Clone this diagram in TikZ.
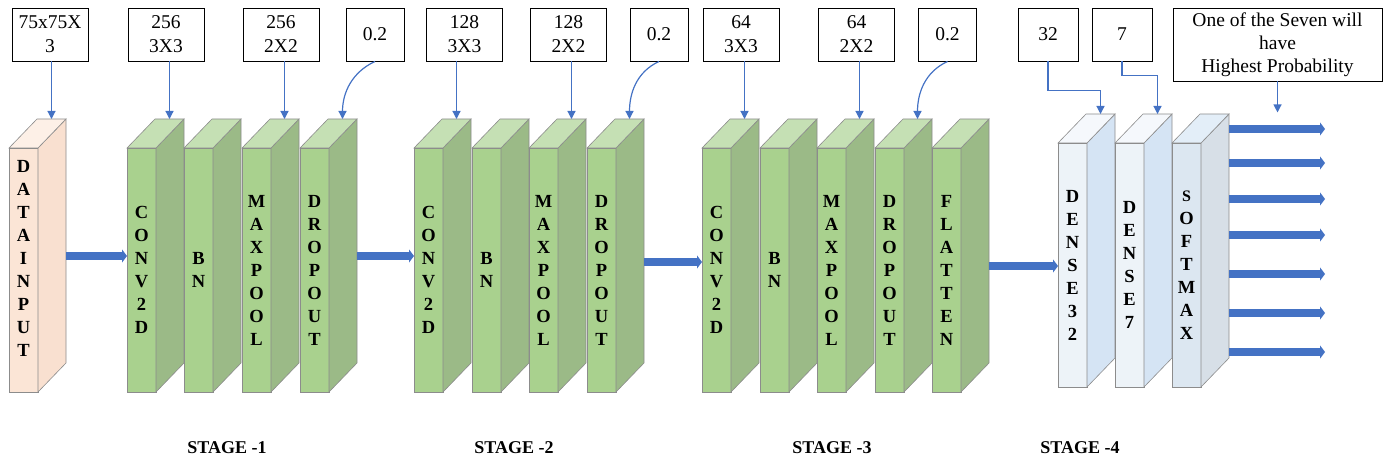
\documentclass[tikz,border=0pt]{standalone}
\usepackage{fontspec}
\setmainfont{Liberation Serif}
\usetikzlibrary{positioning,calc,arrows.meta}

\definecolor{arrowblue}{HTML}{4472C4}
\definecolor{peachfront}{HTML}{FBE5D6}
\definecolor{peachside}{HTML}{F9E0D0}
\definecolor{peachtop}{HTML}{FDF0E7}
\definecolor{greenfront}{HTML}{A9D18E}
\definecolor{greenside}{HTML}{9BBA87}
\definecolor{greentop}{HTML}{C5E0B4}
\definecolor{densefront}{HTML}{EDF3F8}
\definecolor{denseside}{HTML}{D5E4F4}
\definecolor{densetop}{HTML}{F5F8FC}
\definecolor{softfront}{HTML}{DCE7F1}
\definecolor{softside}{HTML}{D7DFE7}
\definecolor{softtop}{HTML}{E3EEF8}

\tikzset{
  slab/.style={minimum width=29pt, minimum height=244pt, inner sep=0pt, outer sep=0pt,
    draw=black!45, line width=0.6pt, align=center,
    font=\bfseries\fontsize{18.5}{23}\selectfont},
  slab edge/.style={draw=black!45, line width=0.6pt},
  parambox/.style={draw=black, line width=0.9pt, minimum height=53pt, minimum width=76pt,
    inner sep=2pt, align=center, font=\fontsize{19.5}{24}\selectfont},
  link/.style={draw=arrowblue, line width=1.2pt, -{Triangle[length=8pt,width=8pt]}},
  flow/.style={draw=arrowblue, line width=8pt, -{Triangle[length=5pt,width=13pt]}},
  stagelabel/.style={font=\bfseries\fontsize{18}{22}\selectfont},
}

% one layer drawn as a slab: name, colour, x, y of front top, letters
\newcommand{\slab}[5]{%
  \node[slab, fill=#2front, anchor=north west] (#1) at (#3,#4) {#5};
  \draw[slab edge, fill=#2side] (#1.north east) -- ++(28,-29) -- ++(0,244) -- (#1.south east) -- cycle;
  \draw[slab edge, fill=#2top] (#1.north west) -- ++(28,-29) -- ($(#1.north east)+(28,-29)$) -- (#1.north east) -- cycle;
  \coordinate (#1 top) at ($(#1.north)+(28,-29)$);
  \coordinate (#1 back) at ($(#1.north east)+(28,108)$);
}

\begin{document}
\begin{tikzpicture}[x=1pt,y=-1pt]
    \useasboundingbox (0,0) rectangle (1388,465);

    % layers
    \slab{datain}{peach}{9}{148}{D\\A\\T\\A\\I\\N\\P\\U\\T\\[0pt]}
    \slab{conva}{green}{127}{148}{C\\O\\N\\V\\2\\D}
    \slab{bna}{green}{184}{148}{B\\N}
    \slab{poola}{green}{242}{148}{M\\A\\X\\P\\O\\O\\L}
    \slab{dropa}{green}{300}{148}{D\\R\\O\\P\\O\\U\\T}
    \slab{convb}{green}{414}{148}{C\\O\\N\\V\\2\\D}
    \slab{bnb}{green}{472}{148}{B\\N}
    \slab{poolb}{green}{529}{148}{M\\A\\X\\P\\O\\O\\L}
    \slab{dropb}{green}{587}{148}{D\\R\\O\\P\\O\\U\\T}
    \slab{convc}{green}{702}{148}{C\\O\\N\\V\\2\\D}
    \slab{bnc}{green}{760}{148}{B\\N}
    \slab{poolc}{green}{817}{148}{M\\A\\X\\P\\O\\O\\L}
    \slab{dropc}{green}{875}{148}{D\\R\\O\\P\\O\\U\\T}
    \slab{flat}{green}{932}{148}{F\\L\\A\\T\\T\\E\\N}
    \slab{densea}{dense}{1058}{143}{D\\E\\N\\S\\E\\3\\2}
    \slab{denseb}{dense}{1115}{143}{D\\E\\N\\S\\E\\7}
    \slab{soft}{soft}{1172}{143}{\fontsize{16}{20}\selectfont S\\O\\F\\T\\M\\A\\X}

    % parameter boxes
    \node[parambox] (inbox) at (50,34.5) {75x75X\\3};
    \node[parambox] (convabox) at (166,34.5) {256\\3X3};
    \node[parambox] (poolabox) at (281,34.5) {256\\2X2};
    \node[parambox, minimum width=58pt] (dropabox) at (375,34.5) {0.2};
    \node[parambox] (convbbox) at (464.5,34.5) {128\\3X3};
    \node[parambox] (poolbbox) at (568.5,34.5) {128\\2X2};
    \node[parambox, minimum width=58pt] (dropbbox) at (659,34.5) {0.2};
    \node[parambox] (convcbox) at (741,34.5) {64\\3X3};
    \node[parambox] (poolcbox) at (856.5,34.5) {64\\2X2};
    \node[parambox, minimum width=58pt] (dropcbox) at (947.5,34.5) {0.2};
    \node[parambox, minimum width=60pt] (denseabox) at (1048,34.5) {32};
    \node[parambox, minimum width=60pt] (densebbox) at (1122,34.5) {7};
    \node[parambox, minimum width=209pt, minimum height=73pt, inner sep=1pt,
          font=\fontsize{19.5}{23}\selectfont] (probbox) at (1277.5,44.5)
          {One of the Seven will\\have\\Highest Probability};

    % parameter links
    \draw[link] (datain top |- inbox.south) -- (datain top);
    \draw[link] (conva top |- convabox.south) -- (conva top);
    \draw[link] (poola top |- poolabox.south) -- (poola top);
    \draw[link] (dropabox.south) to[out=-155,in=90] (dropa top);
    \draw[link] (convb top |- convbbox.south) -- (convb top);
    \draw[link] (poolb top |- poolbbox.south) -- (poolb top);
    \draw[link] (dropbbox.south) to[out=-155,in=90] (dropb top);
    \draw[link] (convc top |- convcbox.south) -- (convc top);
    \draw[link] (poolc top |- poolcbox.south) -- (poolc top);
    \draw[link] (dropcbox.south) to[out=-155,in=90] (dropc top);
    \draw[link] (denseabox.south) -- ++(0,29) -| (densea top);
    \draw[link] (densebbox.south) -- ++(0,14) -| (denseb top);
    \coordinate (probtip) at ($(probbox.south)+(0,31)$);
    \draw[link] (probbox.south) -- (probtip);

    % data flow
    \draw[flow] (datain back) -- (datain back -| conva.west);
    \draw[flow] (dropa back) -- (dropa back -| convb.west);
    \draw[flow] ($(dropb back)+(0,6)$) -- ($(dropb back -| convc.west)+(0,6)$);
    \draw[flow] ($(flat back)+(0,10)$) -- ($(flat back -| densea.west)+(0,10)$);
    \foreach \yy in {129,163,199,235,274,313,352}
        \draw[flow] (soft back |- {0,\yy}) -- ++(96,0);

    % stages
    \node[stagelabel] (stagea) at (227,448) {STAGE -1};
    \node[stagelabel] (stageb) at (514,448) {STAGE -2};
    \node[stagelabel] (stagec) at (832,448) {STAGE -3};
    \node[stagelabel] (staged) at (1080,448) {STAGE -4};
\end{tikzpicture}
\end{document}
